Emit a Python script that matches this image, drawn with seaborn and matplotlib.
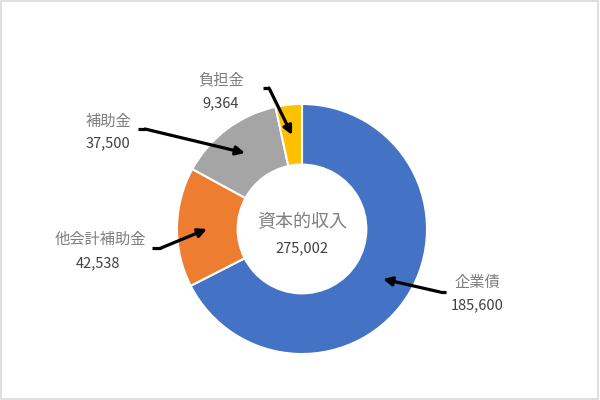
import matplotlib
matplotlib.use("Agg")
import matplotlib.pyplot as plt
import seaborn as sns
from matplotlib.patches import Rectangle

# data
categories = ["企業債", "他会計補助金", "補助金", "負担金"]
values = [185600, 42538, 37500, 9364]
total_label = "資本的収入"
colors = ["#4472C4", "#ED7D31", "#A5A5A5", "#FFC000"]

sns.set_theme(style="white")
plt.rcParams['font.family'] = ['Noto Sans CJK JP', 'DejaVu Sans']

fig = plt.figure(figsize=(6, 4), dpi=100)
ax = fig.add_axes([0, 0, 1, 1])
ax.set_xlim(0, 600)
ax.set_ylim(0, 400)
ax.set_aspect("equal")
ax.axis("off")

# donut centred at (302, 229) px from the top-left
cx, cy, R = 302, 400 - 229, 125
ax.pie(values, colors=colors, startangle=90, counterclock=False,
       center=(cx, cy), radius=R, frame=True,
       wedgeprops=dict(width=R * 0.485, edgecolor="white", linewidth=1.5))
ax.set_xlim(0, 600)
ax.set_ylim(0, 400)
ax.axis("off")

name_col = "#7F7F7F"
num_col = "#404040"

# centre text
ax.text(cx, 400 - 222, total_label, ha="center", va="center", fontsize=13, color=name_col)
ax.text(cx, 400 - 248, f"{sum(values):,}", ha="center", va="center", fontsize=10.5, color=num_col)

# label positions (px from top-left): name, value, arrow elbow points
label_pos = {
    "企業債": ((477, 282), (477, 305), [(446, 292), (440, 292)], (383, 279)),
    "他会計補助金": ((100, 239), (98, 263), [(152, 248), (161, 248)], (207, 229)),
    "補助金": ((108, 121), (108, 143), [(138, 129), (145, 129)], (245, 153)),
    "負担金": ((221, 80), (221, 103), [(263, 88), (269, 88)], (292, 135)),
}

for cat, val in zip(categories, values):
    npos, vpos, elbow, tip = label_pos[cat]
    ax.text(npos[0], 400 - npos[1], cat, ha="center", va="center", fontsize=11, color=name_col)
    ax.text(vpos[0], 400 - vpos[1], f"{val:,}", ha="center", va="center", fontsize=10.5, color=num_col)
    ax.plot([elbow[0][0], elbow[1][0]], [400 - elbow[0][1], 400 - elbow[1][1]],
            color="black", lw=2.3, solid_capstyle="butt")
    ax.annotate("", xy=(tip[0], 400 - tip[1]), xytext=(elbow[1][0], 400 - elbow[1][1]),
                arrowprops=dict(arrowstyle="-|>", color="black", lw=2.3,
                                mutation_scale=13, shrinkA=0, shrinkB=0))

# light frame around the chart area
fig.patches.append(Rectangle((0.002, 0.003), 0.995, 0.994, transform=fig.transFigure,
                             fill=False, edgecolor="#D9D9D9", lw=1.2))

fig.savefig("out.png", dpi=100, facecolor="white")
